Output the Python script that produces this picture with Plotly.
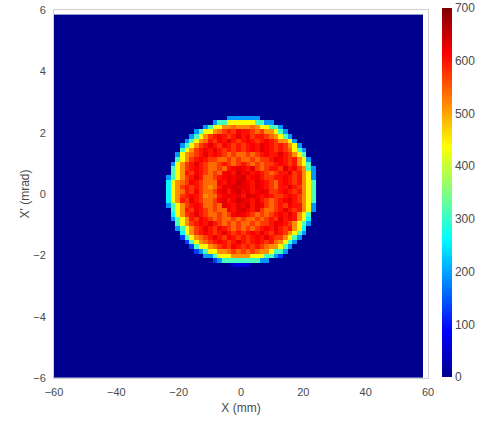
import numpy as np
import plotly.graph_objects as go

# ---- axis / tick data ----
x_ticks = [-60, -40, -20, 0, 20, 40, 60]
y_ticks = [-6, -4, -2, 0, 2, 4, 6]
cbar_ticks = [0, 100, 200, 300, 400, 500, 600, 700]

# ---- histogram grid (bin edges; last bin not drawn, as in the picture) ----
x_edges = np.linspace(-60, 58.5, 80)
y_edges = np.linspace(-6, 5.85, 80)

# ---- cell values (counts per bin), coded by level ----
LEVELS = {'.': 0, '1': 60, '2': 130, '3': 190, '4': 260, '5': 310, '7': 440,
          'a': 515, 'b': 540, 'c': 575, 'd': 600, 'e': 615, 'f': 630, 'g': 645}

# rows from top (X' = 2.475) downward, columns from X = -23.25 rightward
DISK_ROWS = [
    ".............3333333............",
    "..........3557777775533.........",
    "........3577aabaaaba77553.......",
    "......3577abcdceddcbcaa753......",
    ".....357acdedcdfdecddcba753.....",
    "....357abdcedfdcdedcdedcaa73....",
    "...357acdfdcedcdcdedfedcdca73...",
    "...57acdedfdcdcdcdedfedcdcb753..",
    "..37abcdfdedcbcbbcbcdeddfdca75..",
    "..57acdedccbbcbcbbcbccdfedcda73.",
    ".37acdfdcbbcdcbcdcbcbccdedcda75.",
    ".57acdedcbbcbdefedfcbcddcfdeca53",
    ".57adcedcbcbefdgefdedcbcddfcda73",
    "357acdfdbbcdefefgdefdccddedcda73",
    "47abcedcbbbedfegfedfedcbdedcda75",
    "47acdcdcbabdfegffedfedcbddfdca75",
    "47abdcecbbcefdfgefdefeccdedcda75",
    "47acdedcabbdefefdgfededccdedca75",
    "47adcfdcbbcefdegfedfdcbcdefdca75",
    "357acdedbbcbfedfegdfecbcdcedda73",
    ".57adcedcbcbbedfgedfcbbcdfdcda73",
    ".47acdfdcbbcbcefedcbcbcdedfda75.",
    ".357adcedcbcbbcbcbbcbcdcfdeda74.",
    "..57acdedfdcbcbcbbcbccdfedca753.",
    "..357acdfdcedcbcbcbcdedfdcda74..",
    "...47acdedcdfdcdcdedfdcedca753..",
    "...257abcdfdcedcdcdedfdcca753...",
    "....257abcdedcdfdcdedcdba753....",
    ".....2577abcdcedcdcdcbaa753.....",
    "......23577aabcbcbcbaa7553......",
    "........335777aaaa7775532.......",
    "..........235555555533..........",
    "..............1111..............",
]
DISK_FIRST_COL_X = -23.25
DISK_TOP_ROW_Y = 2.475

x_centers = (x_edges[:-1] + x_edges[1:]) / 2
y_centers = (y_edges[:-1] + y_edges[1:]) / 2
z = np.zeros((len(y_centers), len(x_centers)))
col0 = int(np.argmin(np.abs(x_centers - DISK_FIRST_COL_X)))
rowtop = int(np.argmin(np.abs(y_centers - DISK_TOP_ROW_Y)))
for r, s in enumerate(DISK_ROWS):
    assert len(s) == 32, (r, len(s))
    for c, ch in enumerate(s):
        z[rowtop - r, col0 + c] = LEVELS[ch]

jet = [[0.0, 'rgb(0,0,143)'], [0.125, 'rgb(0,0,255)'], [0.375, 'rgb(0,255,255)'],
       [0.625, 'rgb(255,255,0)'], [0.875, 'rgb(255,0,0)'], [1.0, 'rgb(128,0,0)']]

FONT = "Liberation Sans, Arial, Helvetica, sans-serif"
TXT = '#4a4a4a'

fig = go.Figure(go.Heatmap(
    x=x_edges, y=y_edges, z=z, zmin=0, zmax=700, colorscale=jet, zsmooth=False,
    hoverinfo='skip',
    colorbar=dict(
        tickvals=cbar_ticks, ticks='', outlinewidth=0, thickness=10,
        lenmode='pixels', len=369, x=1.037, xanchor='left', xpad=0,
        y=0.504, yanchor='middle', ypad=0,
        tickfont=dict(family=FONT, size=12, color=TXT),
    ),
))

fig.update_layout(
    width=479, height=421,
    margin=dict(l=54, r=51, t=10, b=43, autoexpand=False),
    paper_bgcolor='white', plot_bgcolor='white',
    font=dict(family=FONT, size=11, color=TXT),
    xaxis=dict(range=[-60, 60], tickvals=x_ticks, ticks='', showgrid=False,
               zeroline=False, showline=True, mirror=True, linecolor='#cfcfcf',
               linewidth=1, ticklabelstandoff=4,
               title=dict(text='X (mm)', font=dict(size=12, color=TXT), standoff=6)),
    yaxis=dict(range=[-6, 6], tickvals=y_ticks, ticks='', showgrid=False,
               zeroline=False, showline=True, mirror=True, linecolor='#cfcfcf',
               linewidth=1, ticklabelstandoff=5,
               title=dict(text="X' (mrad)", font=dict(size=12, color=TXT), standoff=1)),
)

fig.write_html("out.html")
